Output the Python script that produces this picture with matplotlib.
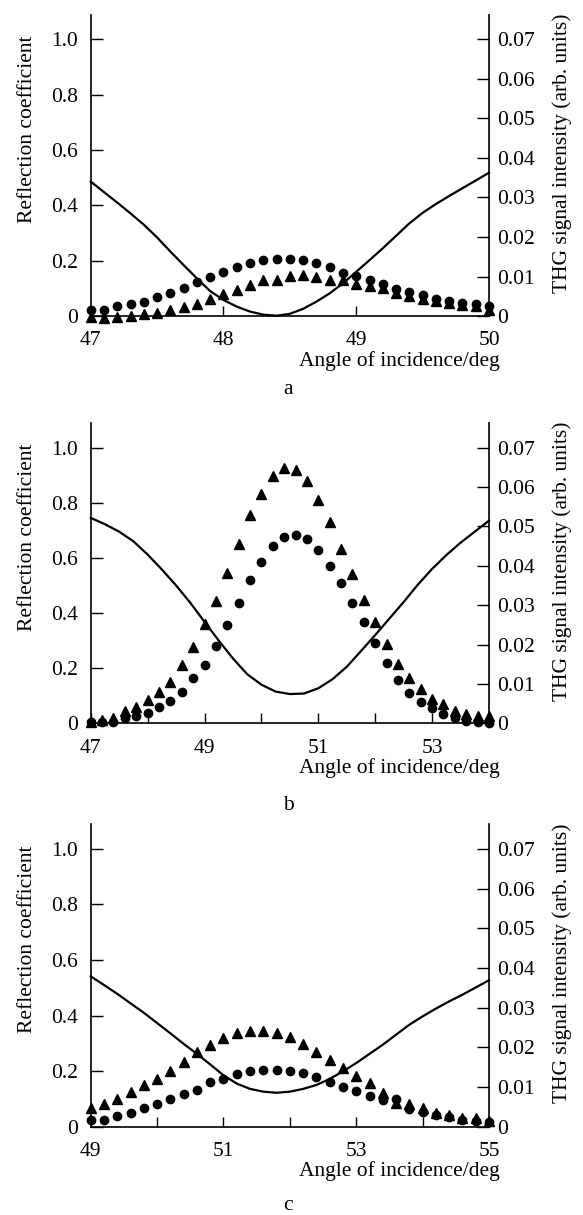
import matplotlib
matplotlib.use('Agg')
import matplotlib.pyplot as plt

plt.rcParams['font.family'] = ['Liberation Serif', 'DejaVu Serif']
plt.rcParams['font.size'] = 15.5

# ---- panel a : 47..50 deg, markers every 0.1 deg
a_x = [47.0, 47.1, 47.2, 47.3, 47.4, 47.5, 47.6, 47.7, 47.8, 47.9, 48.0,
       48.1, 48.2, 48.3, 48.4, 48.5, 48.6, 48.7, 48.8, 48.9, 49.0,
       49.1, 49.2, 49.3, 49.4, 49.5, 49.6, 49.7, 49.8, 49.9, 50.0]
a_refl = [0.486, 0.448, 0.410, 0.371, 0.330, 0.284, 0.233, 0.184, 0.136, 0.090, 0.058,
          0.034, 0.016, 0.005, 0.001, 0.008, 0.026, 0.052, 0.082, 0.118, 0.160,
          0.202, 0.245, 0.290, 0.335, 0.373, 0.405, 0.434, 0.462, 0.490, 0.518]
a_circ = [0.0015, 0.0015, 0.0025, 0.0030, 0.0036, 0.0049, 0.0059, 0.0070, 0.0087, 0.0099, 0.0111,
          0.0123, 0.0133, 0.0141, 0.0145, 0.0145, 0.0141, 0.0133, 0.0123, 0.0110, 0.0102,
          0.0091, 0.0081, 0.0069, 0.0061, 0.0053, 0.0044, 0.0039, 0.0032, 0.0030, 0.0025]
a_tri = [-0.0002, -0.0006, -0.0003, 0.0001, 0.0004, 0.0008, 0.0015, 0.0022, 0.0030, 0.0042, 0.0056,
         0.0067, 0.0079, 0.0090, 0.0090, 0.0102, 0.0104, 0.0098, 0.0091, 0.0090, 0.0081,
         0.0076, 0.0071, 0.0057, 0.0050, 0.0042, 0.0039, 0.0032, 0.0027, 0.0025, 0.0015]

# ---- panel b : 47..54 deg, markers every 0.2 deg
b_x = [47.0, 47.2, 47.4, 47.6, 47.8, 48.0, 48.2, 48.4, 48.6, 48.8, 49.0, 49.2,
       49.4, 49.6, 49.8, 50.0, 50.2, 50.4, 50.6, 50.8, 51.0, 51.2, 51.4, 51.6,
       51.8, 52.0, 52.2, 52.4, 52.6, 52.8, 53.0, 53.2, 53.4, 53.6, 53.8, 54.0]
b_circ = [0.0004, 0.0004, 0.0004, 0.0013, 0.0019, 0.0025, 0.0042, 0.0057, 0.0080, 0.0114, 0.0148, 0.0196,
          0.0249, 0.0305, 0.0363, 0.0409, 0.0450, 0.0473, 0.0478, 0.0467, 0.0439, 0.0400, 0.0357, 0.0305,
          0.0256, 0.0205, 0.0153, 0.0111, 0.0078, 0.0054, 0.0040, 0.0024, 0.0013, 0.0007, 0.0004, 0.0001]
b_tri = [0.0004, 0.0008, 0.0013, 0.0032, 0.0042, 0.0059, 0.0080, 0.0106, 0.0148, 0.0194, 0.0253, 0.0310,
         0.0382, 0.0454, 0.0530, 0.0582, 0.0627, 0.0648, 0.0643, 0.0616, 0.0568, 0.0510, 0.0443, 0.0378,
         0.0314, 0.0257, 0.0202, 0.0150, 0.0116, 0.0086, 0.0062, 0.0049, 0.0032, 0.0024, 0.0019, 0.0019]
b_line_x = [47.0, 47.25, 47.5, 47.75, 48.0, 48.25, 48.5, 48.75, 49.0, 49.25, 49.5, 49.75,
            50.0, 50.25, 50.5, 50.75, 51.0, 51.25, 51.5, 51.75, 52.0, 52.25, 52.5, 52.75,
            53.0, 53.25, 53.5, 53.75, 54.0]
b_refl = [0.745, 0.722, 0.695, 0.660, 0.612, 0.558, 0.500, 0.437, 0.368, 0.300, 0.235, 0.178,
          0.140, 0.115, 0.106, 0.108, 0.127, 0.160, 0.205, 0.262, 0.320, 0.380, 0.440, 0.503,
          0.560, 0.610, 0.655, 0.695, 0.735]

# ---- panel c : 49..55 deg, markers every 0.2 deg
c_x = [49.0, 49.2, 49.4, 49.6, 49.8, 50.0, 50.2, 50.4, 50.6, 50.8, 51.0,
       51.2, 51.4, 51.6, 51.8, 52.0, 52.2, 52.4, 52.6, 52.8, 53.0,
       53.2, 53.4, 53.6, 53.8, 54.0, 54.2, 54.4, 54.6, 54.8, 55.0]
c_refl = [0.541, 0.510, 0.478, 0.444, 0.410, 0.373, 0.336, 0.298, 0.262, 0.224, 0.185,
          0.155, 0.136, 0.126, 0.122, 0.126, 0.136, 0.150, 0.172, 0.199, 0.229,
          0.262, 0.295, 0.331, 0.367, 0.397, 0.425, 0.451, 0.475, 0.501, 0.527]
c_circ = [0.0018, 0.0018, 0.0027, 0.0034, 0.0046, 0.0057, 0.0070, 0.0082, 0.0092, 0.0113, 0.0120,
          0.0132, 0.0139, 0.0143, 0.0144, 0.0141, 0.0134, 0.0125, 0.0112, 0.0101, 0.0090,
          0.0078, 0.0066, 0.0070, 0.0044, 0.0037, 0.0029, 0.0024, 0.0017, 0.0015, 0.0011]
c_tri = [0.0046, 0.0057, 0.0070, 0.0087, 0.0104, 0.0120, 0.0141, 0.0162, 0.0189, 0.0206, 0.0223,
         0.0235, 0.0242, 0.0242, 0.0235, 0.0225, 0.0209, 0.0189, 0.0169, 0.0147, 0.0128,
         0.0109, 0.0085, 0.0060, 0.0057, 0.0046, 0.0035, 0.0029, 0.0023, 0.0021, 0.0015]

refl_ticks = [0, 0.2, 0.4, 0.6, 0.8, 1.0]
refl_labels = ['0', '0.2', '0.4', '0.6', '0.8', '1.0']
thg_ticks = [0, 0.01, 0.02, 0.03, 0.04, 0.05, 0.06, 0.07]
thg_labels = ['0', '0.01', '0.02', '0.03', '0.04', '0.05', '0.06', '0.07']

YTOP = 1.088


def draw_panel(fig, rect, xs, tri, circ, line_x, refl, xlim, xticks, xlabels, letter, letter_y):
    ax = fig.add_axes(rect)
    ax2 = ax.twinx()
    ax.plot(line_x, refl, color='black', lw=1.6, clip_on=False, zorder=3)
    ax2.plot(xs, tri, ls='none', marker='^', ms=7, color='black', clip_on=False, zorder=4)
    ax2.plot(xs, circ, ls='none', marker='o', ms=6, color='black', clip_on=False, zorder=4)

    ax.set_xlim(*xlim)
    ax.set_ylim(0, YTOP)
    ax2.set_ylim(0, 0.07 * YTOP)

    ax.set_xticks(xticks)
    ax.set_xticklabels(xlabels)
    ax.set_yticks(refl_ticks)
    ax.set_yticklabels(refl_labels)
    ax2.set_yticks(thg_ticks)
    ax2.set_yticklabels(thg_labels)

    for a in (ax, ax2):
        a.spines['top'].set_visible(False)
        for s in a.spines.values():
            s.set_linewidth(1.2)
    ax.spines['right'].set_visible(False)
    ax2.spines['left'].set_visible(False)
    ax2.spines['bottom'].set_visible(False)

    ax.tick_params(axis='y', direction='in', length=8.5, width=1, pad=9)
    ax.tick_params(axis='x', direction='in', length=7.5, width=1, pad=11)
    ax2.tick_params(axis='y', direction='in', length=9, width=1, pad=6)

    ax.text(-0.158, 0.62, 'Reflection coefficient', transform=ax.transAxes,
            rotation=90, ha='center', va='center')
    ax.text(1.184, 0.54, 'THG signal intensity (arb. units)', transform=ax.transAxes,
            rotation=90, ha='center', va='center')
    ax.text(1.028, -0.148, 'Angle of incidence/deg', transform=ax.transAxes,
            ha='right', va='center')
    fig.text(288 / 583, letter_y, letter, ha='center', va='center')


fig = plt.figure(figsize=(5.83, 12.15), dpi=100)
L, W = 0.1556, 0.6832

draw_panel(fig, [L, 0.7399, W, 0.2477], a_x, a_tri, a_circ, a_x, a_refl,
           (47, 50), [47, 48, 49, 50], ['47', '48', '49', '50'], 'a', 1 - 390 / 1215)
draw_panel(fig, [L, 0.4047, W, 0.2469], b_x, b_tri, b_circ, b_line_x, b_refl,
           (47, 54), [47, 48, 49, 50, 51, 52, 53, 54],
           ['47', '', '49', '', '51', '', '53', ''], 'b', 1 - 805 / 1215)
draw_panel(fig, [L, 0.0727, W, 0.2488], c_x, c_tri, c_circ, c_x, c_refl,
           (49, 55), [49, 50, 51, 52, 53, 54, 55],
           ['49', '', '51', '', '53', '', '55'], 'c', 1 - 1206 / 1215)

fig.savefig('out.png', dpi=100)
